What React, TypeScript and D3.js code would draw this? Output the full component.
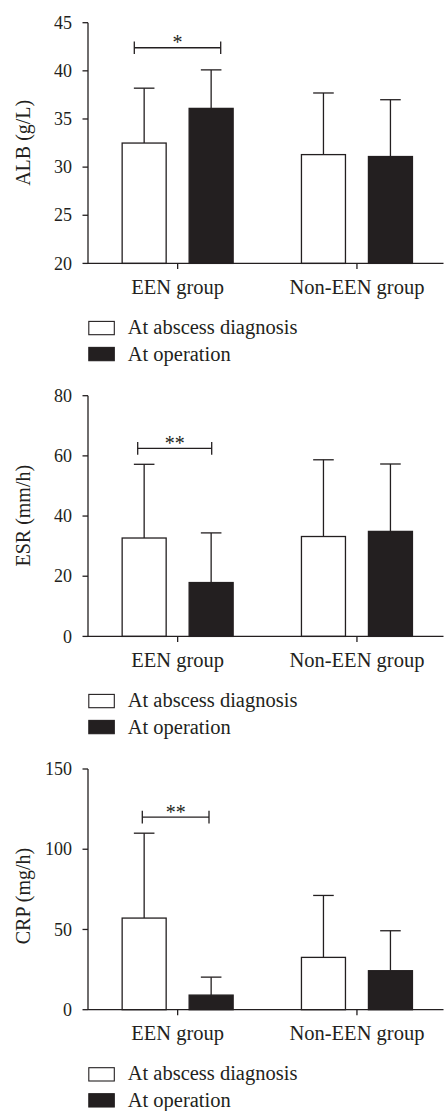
import React from "react";
import * as d3 from "d3";

// ---------- data ----------
const groups = ["EEN group", "Non-EEN group"];
const series = ["At abscess diagnosis", "At operation"];

const albDiagnosis = [32.5, 31.3];
const albDiagnosisSD = [5.7, 6.4];
const albOperation = [36.1, 31.1];
const albOperationSD = [4.0, 5.9];
const albTicks = [20, 25, 30, 35, 40, 45];

const esrDiagnosis = [32.7, 33.2];
const esrDiagnosisSD = [24.5, 25.5];
const esrOperation = [17.9, 34.9];
const esrOperationSD = [16.5, 22.4];
const esrTicks = [0, 20, 40, 60, 80];

const crpDiagnosis = [57.1, 32.6];
const crpDiagnosisSD = [52.9, 38.6];
const crpOperation = [9.1, 24.3];
const crpOperationSD = [11.2, 24.9];
const crpTicks = [0, 50, 100, 150];

const panelTitles = ["ALB (g/L)", "ESR (mm/h)", "CRP (mg/h)"];
const sigLabels = ["*", "**", "**"];
const sigLevels = [42.4, 62.5, 120];

// ---------- layout ----------
const W = 444;
const H = 1111;
const INK = "#231f20";
const FONT = "'Liberation Serif', 'Times New Roman', serif";
const axisX = 88;
const plotH = 240.7;
const panelTops = [22.7, 395.7, 769];
const yLabelCenters = [142.8, 515.7, 896];
const bracketXs = [
  [134.3, 220.7],
  [137.7, 211.7],
  [142.3, 209],
];

const panels = [
  { title: panelTitles[0], ticks: albTicks, vals: [albDiagnosis, albOperation], sds: [albDiagnosisSD, albOperationSD] },
  { title: panelTitles[1], ticks: esrTicks, vals: [esrDiagnosis, esrOperation], sds: [esrDiagnosisSD, esrOperationSD] },
  { title: panelTitles[2], ticks: crpTicks, vals: [crpDiagnosis, crpOperation], sds: [crpDiagnosisSD, crpOperationSD] },
];

const x = d3.scaleBand<string>().domain(groups).range([axisX, 446.6]).padding(0);
const inner = d3.scaleBand<string>().domain(series).range([-55.5, 55.5]).paddingInner(0.343).paddingOuter(0);

function Panel({ idx }: { idx: number }) {
  const p = panels[idx];
  const top = panelTops[idx];
  const bottom = top + plotH;
  const y = d3
    .scaleLinear()
    .domain([p.ticks[0], p.ticks[p.ticks.length - 1]])
    .range([bottom, top]);
  const bw = inner.bandwidth();
  const capHalf = 10.3;
  const sw = 1.3;
  const [bx0, bx1] = bracketXs[idx];
  const by = y(sigLevels[idx]);

  return (
    <g>
      {/* bars */}
      {groups.map((g, gi) =>
        series.map((s, si) => {
          const cx = (x(g) as number) + x.bandwidth() / 2;
          const left = cx + (inner(s) as number);
          const v = p.vals[si][gi];
          const sd = p.sds[si][gi];
          const yt = y(v);
          const ye = y(v + sd);
          const mid = left + bw / 2;
          return (
            <g key={g + s}>
              <line x1={mid} x2={mid} y1={yt} y2={ye} stroke={INK} strokeWidth={sw} />
              <line x1={mid - capHalf} x2={mid + capHalf} y1={ye} y2={ye} stroke={INK} strokeWidth={sw} />
              <rect
                x={left}
                y={yt}
                width={bw}
                height={bottom - yt}
                fill={si === 0 ? "#ffffff" : INK}
                stroke={INK}
                strokeWidth={sw}
              />
            </g>
          );
        })
      )}

      {/* y axis */}
      <line x1={axisX} x2={axisX} y1={top} y2={bottom} stroke={INK} strokeWidth={sw} />
      {p.ticks.map((t) => (
        <g key={t}>
          <line x1={axisX - 5.5} x2={axisX} y1={y(t)} y2={y(t)} stroke={INK} strokeWidth={sw} />
          <text
            x={72}
            y={y(t)}
            dy="0.34em"
            textAnchor="end"
            fontFamily={FONT}
            fontSize={18}
            fill={INK}
          >
            {t}
          </text>
        </g>
      ))}

      {/* x axis */}
      <line x1={axisX} x2={443.5} y1={bottom} y2={bottom} stroke={INK} strokeWidth={sw} />
      {groups.map((g) => {
        const cx = (x(g) as number) + x.bandwidth() / 2;
        return (
          <g key={g}>
            <line x1={cx} x2={cx} y1={bottom} y2={bottom + 5.5} stroke={INK} strokeWidth={sw} />
            <text
              x={cx}
              y={bottom + 30.7}
              textAnchor="middle"
              fontFamily={FONT}
              fontSize={20.5}
              fill={INK}
            >
              {g}
            </text>
          </g>
        );
      })}

      {/* y label */}
      <text
        transform={`translate(23, ${yLabelCenters[idx]}) rotate(-90)`}
        dy="0.35em"
        textAnchor="middle"
        fontFamily={FONT}
        fontSize={20}
        fill={INK}
      >
        {p.title}
      </text>

      {/* significance bracket */}
      <line x1={bx0} x2={bx1} y1={by} y2={by} stroke={INK} strokeWidth={sw} />
      <line x1={bx0} x2={bx0} y1={by - 6.3} y2={by + 6.3} stroke={INK} strokeWidth={sw} />
      <line x1={bx1} x2={bx1} y1={by - 6.3} y2={by + 6.3} stroke={INK} strokeWidth={sw} />
      <text
        x={(bx0 + bx1) / 2}
        y={by + 1.5}
        textAnchor="middle"
        fontFamily={FONT}
        fontSize={20}
        fill={INK}
      >
        {sigLabels[idx]}
      </text>

      {/* legend */}
      {series.map((s, si) => {
        const boxTop = bottom + (si === 0 ? 58 : 84);
        return (
          <g key={s}>
            <rect
              x={88.8}
              y={boxTop}
              width={25.5}
              height={13.3}
              fill={si === 0 ? "#ffffff" : INK}
              stroke={INK}
              strokeWidth={1.1}
            />
            <text
              x={127.7}
              y={boxTop + 13.3 - (si === 0 ? 1 : 0)}
              fontFamily={FONT}
              fontSize={20.5}
              fill={INK}
            >
              {s}
            </text>
          </g>
        );
      })}
    </g>
  );
}

export default function App() {
  return (
    <svg
      width={W}
      height={H}
      viewBox={`0 0 ${W} ${H}`}
      style={{ position: "absolute", left: 0, top: 0, background: "#ffffff" }}
    >
      <rect x={0} y={0} width={W} height={H} fill="#ffffff" />
      {panels.map((_, i) => (
        <Panel key={i} idx={i} />
      ))}
    </svg>
  );
}
